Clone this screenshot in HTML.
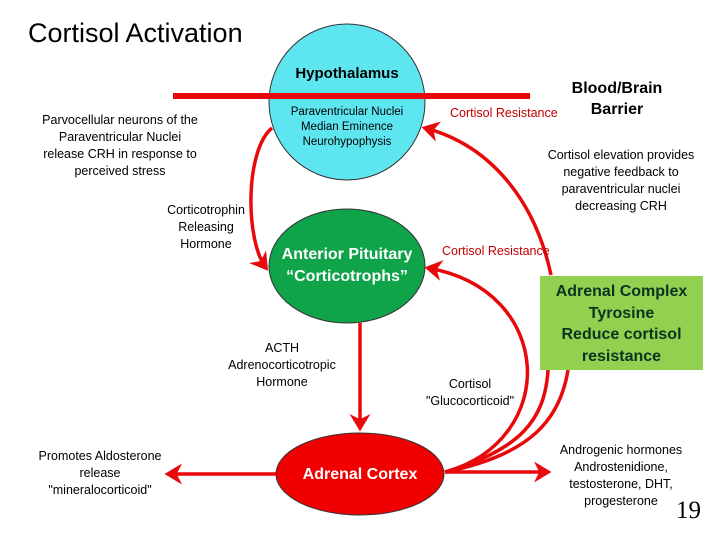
<!DOCTYPE html>
<html><head><meta charset="utf-8"><style>
body{margin:0;background:#fff}
#c{position:relative;width:720px;height:540px;overflow:hidden;font-family:"Liberation Sans",sans-serif}
.t{position:absolute;text-align:center;white-space:nowrap;color:#000}
</style></head><body><div id="c">
<svg width="720" height="540" style="position:absolute;left:0;top:0">
<defs><marker id="a" markerWidth="6" markerHeight="6" refX="4" refY="3" orient="auto" markerUnits="strokeWidth"><path d="M0,0 L5,3 L0,6 L1.5,3z" fill="#e8090b"/></marker></defs>
<circle cx="347" cy="102" r="78" fill="#5ee6f0" stroke="#333" stroke-width="1"/>
<rect x="173" y="93" width="357" height="6" fill="#e8090b"/>
<ellipse cx="347" cy="266" rx="78" ry="57" fill="#0fa34a" stroke="#333" stroke-width="1"/>
<ellipse cx="360" cy="474" rx="84" ry="41" fill="#f00000" stroke="#333" stroke-width="1"/>
<g fill="none" stroke="#e8090b" stroke-width="3.5">
<path d="M272,128 C245,150 245,240 266,268" marker-end="url(#a)"/>
<path d="M360,323 L360,428" marker-end="url(#a)"/>
<path d="M276,474 L168,474" marker-end="url(#a)"/>
<path d="M445,472 L548,472" marker-end="url(#a)"/>
<path d="M551,275 C535,200 490,145 425,128" marker-end="url(#a)"/>
<path d="M445,472 C560,440 555,290 428,268" marker-end="url(#a)"/>
<path d="M445,472 C520,450 545,420 548,370"/>
<path d="M445,472 C530,455 560,420 568,370"/>
</g>
<rect x="540" y="276" width="163" height="94" fill="#92d050"/>
</svg>
<div class="t" style="left:28px;top:18px;font-size:27px;text-align:left">Cortisol Activation</div>
<div class="t" style="left:288px;top:65px;width:118px;font-size:15px;font-weight:bold">Hypothalamus</div>
<div class="t" style="left:270px;top:105px;width:154px;font-size:11.5px;line-height:15px">Paraventricular Nuclei<br>Median Eminence<br>Neurohypophysis</div>
<div class="t" style="left:562px;top:78px;width:110px;font-size:16px;line-height:21px;font-weight:bold">Blood/Brain<br>Barrier</div>
<div class="t" style="left:450px;top:106px;font-size:12.5px;color:#c00000">Cortisol Resistance</div>
<div class="t" style="left:442px;top:244px;font-size:12.5px;color:#c00000">Cortisol Resistance</div>
<div class="t" style="left:20px;top:112px;width:200px;font-size:12.5px;line-height:17px">Parvocellular neurons of the<br>Paraventricular Nuclei<br>release CRH in response to<br>perceived stress</div>
<div class="t" style="left:150px;top:202px;width:112px;font-size:12.5px;line-height:17px">Corticotrophin<br>Releasing<br>Hormone</div>
<div class="t" style="left:536px;top:147px;width:170px;font-size:12.5px;line-height:17px">Cortisol elevation provides<br>negative feedback to<br>paraventricular nuclei<br>decreasing CRH</div>
<div class="t" style="left:269px;top:244px;width:156px;font-size:16px;line-height:22px;color:#fff;font-weight:bold">Anterior Pituitary<br>“Corticotrophs”</div>
<div class="t" style="left:541px;top:281px;width:161px;font-size:16px;line-height:21.5px;font-weight:bold;color:#0d3320">Adrenal Complex<br>Tyrosine<br>Reduce cortisol<br>resistance</div>
<div class="t" style="left:212px;top:340px;width:140px;font-size:12.5px;line-height:17px">ACTH<br>Adrenocorticotropic<br>Hormone</div>
<div class="t" style="left:410px;top:376px;width:120px;font-size:12.5px;line-height:17px">Cortisol<br>"Glucocorticoid"</div>
<div class="t" style="left:20px;top:448px;width:160px;font-size:12.5px;line-height:17px">Promotes Aldosterone<br>release<br>"mineralocorticoid"</div>
<div class="t" style="left:276px;top:466px;width:168px;font-size:16px;color:#fff;font-weight:bold">Adrenal Cortex</div>
<div class="t" style="left:550px;top:442px;width:142px;font-size:12.5px;line-height:17px">Androgenic hormones<br>Androstenidione,<br>testosterone, DHT,<br>progesterone</div>
<div class="t" style="left:676px;top:497px;font-size:25px;font-family:'Liberation Serif',serif">19</div>
</div></body></html>
